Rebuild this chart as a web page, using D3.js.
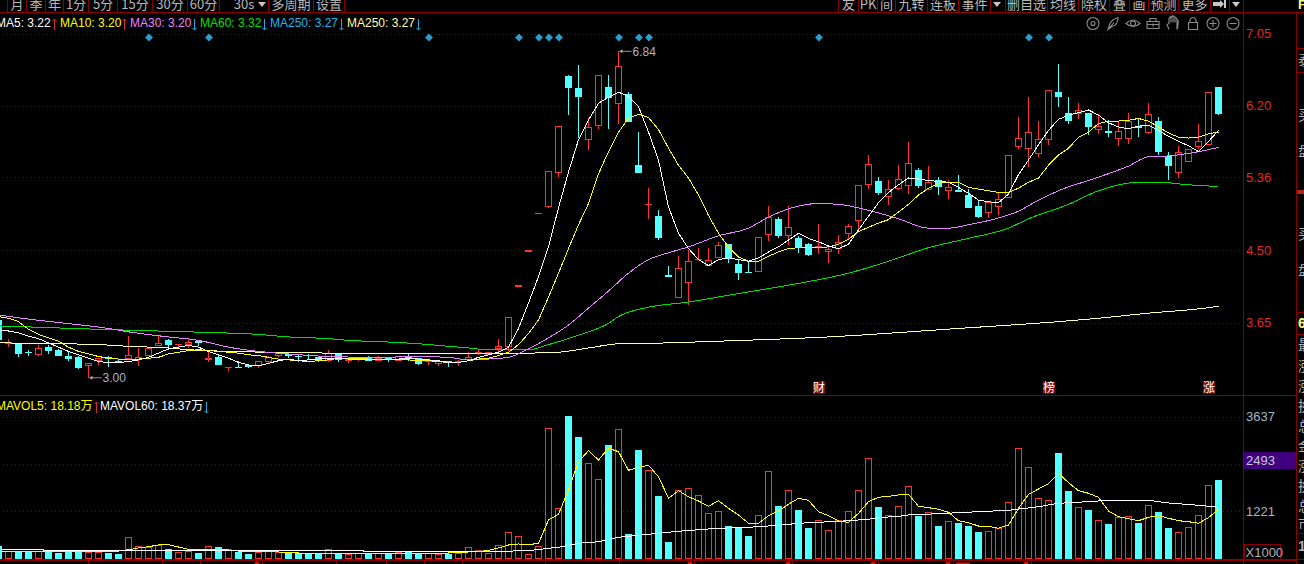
<!DOCTYPE html>
<html>
<head>
<meta charset="utf-8">
<script src="https://d3js.org/d3.v7.min.js"></script>
<style>
    html, body { margin: 0; padding: 0; background: #000; overflow: hidden; }
    svg { display: block; background: #000; }
    text { font-family: "Liberation Sans", Arial, "Noto Sans CJK SC", sans-serif; }
    .cjk { font-family: "Noto Sans CJK SC", sans-serif; }
</style>
</head>
<body>
<svg id="chart" width="1304" height="564"></svg>
<script>
// daily candles
var opens = [3.68,3.40,3.40,3.30,3.27,3.36,3.33,3.26,3.25,3.14,3.20,3.24,3.19,3.23,3.21,3.26,3.38,3.44,3.38,3.39,3.42,3.21,3.25,3.11,3.12,3.15,3.14,3.19,3.26,3.28,3.26,3.26,3.24,3.20,3.28,3.20,3.22,3.24,3.20,3.22,3.20,3.24,3.23,3.18,3.17,3.20,3.18,3.21,3.29,3.27,3.34,3.37,4.08,4.49,4.93,5.02,5.41,6.55,6.41,5.80,5.97,6.42,6.23,6.34,5.50,5.03,4.90,4.20,3.94,4.12,4.38,4.32,4.42,4.57,4.34,4.24,4.25,4.68,4.87,4.67,4.64,4.57,4.53,4.48,4.52,4.70,4.85,5.27,5.31,5.13,5.23,5.26,5.44,5.21,5.33,5.20,5.20,5.15,5.02,4.95,5.02,5.12,5.72,5.70,5.64,5.80,6.36,6.12,6.11,6.12,5.92,5.89,5.82,5.82,5.95,5.89,6.02,5.61,5.41,5.55,5.72,5.75,6.42];
var closes = [3.44,3.41,3.28,3.29,3.35,3.32,3.26,3.22,3.12,3.17,3.23,3.22,3.18,3.26,3.24,3.35,3.40,3.38,3.39,3.41,3.41,3.22,3.15,3.12,3.11,3.13,3.19,3.24,3.29,3.26,3.24,3.25,3.21,3.28,3.21,3.22,3.23,3.20,3.23,3.21,3.25,3.23,3.16,3.19,3.19,3.18,3.19,3.24,3.30,3.30,3.37,3.71,4.08,4.49,4.93,5.43,5.96,6.41,6.30,5.95,6.56,6.29,6.66,6.01,5.41,5.04,4.64,4.19,4.29,4.37,4.39,4.38,4.56,4.40,4.23,4.23,4.65,4.89,4.67,4.77,4.53,4.44,4.54,4.51,4.59,4.78,5.26,5.51,5.17,5.22,5.33,5.52,5.26,5.30,5.24,5.24,5.19,5.00,4.89,5.06,5.10,5.61,5.82,5.89,5.80,6.38,6.30,6.02,6.15,5.95,5.96,5.88,5.90,6.02,5.94,6.10,5.66,5.49,5.65,5.69,5.78,6.36,6.10];
var highs = [3.70,3.46,3.40,3.33,3.39,3.39,3.34,3.32,3.26,3.17,3.23,3.26,3.22,3.49,3.35,3.35,3.49,3.46,3.40,3.44,3.44,3.33,3.28,3.13,3.20,3.16,3.19,3.26,3.29,3.29,3.27,3.28,3.24,3.33,3.28,3.24,3.24,3.26,3.26,3.24,3.25,3.29,3.23,3.21,3.19,3.20,3.21,3.30,3.33,3.30,3.46,3.71,4.08,4.49,4.93,5.43,5.96,6.56,6.68,6.06,6.56,6.56,6.84,6.36,5.89,5.23,4.97,4.31,4.43,4.50,4.53,4.53,4.60,4.57,4.39,4.37,4.65,5.02,4.89,5.02,4.67,4.59,4.81,4.56,4.68,4.81,5.26,5.62,5.36,5.33,5.50,5.77,5.47,5.49,5.36,5.33,5.38,5.22,5.09,5.06,5.17,5.61,6.07,6.30,6.02,6.38,6.69,6.30,6.23,6.12,6.10,6.03,6.02,6.11,6.06,6.23,6.07,5.66,5.73,5.69,5.98,6.36,6.42];
var lows = [3.43,3.36,3.24,3.26,3.26,3.28,3.26,3.20,3.10,3.00,3.15,3.13,3.17,3.22,3.14,3.26,3.37,3.33,3.35,3.35,3.37,3.18,3.15,3.08,3.11,3.11,3.11,3.17,3.24,3.23,3.19,3.22,3.19,3.19,3.19,3.17,3.20,3.20,3.20,3.19,3.20,3.20,3.15,3.15,3.14,3.13,3.14,3.20,3.27,3.27,3.29,3.31,4.08,4.49,4.93,5.00,5.36,6.09,5.82,5.68,5.93,5.93,5.99,6.01,5.41,4.87,4.62,4.19,3.94,3.86,4.38,4.31,4.41,4.35,4.15,4.23,4.25,4.61,4.65,4.56,4.47,4.43,4.46,4.35,4.46,4.62,4.72,5.22,5.15,5.03,5.21,5.16,5.23,5.21,5.15,5.10,5.19,5.00,4.88,4.88,4.91,5.12,5.69,5.48,5.60,5.74,6.18,5.98,6.04,5.86,5.87,5.83,5.73,5.75,5.83,5.87,5.62,5.33,5.35,5.55,5.69,5.75,6.09];

// moving averages, one value per day
var ma5 = [3.56,3.55,3.53,3.49,3.46,3.41,3.36,3.31,3.27,3.23,3.19,3.18,3.18,3.19,3.21,3.24,3.29,3.34,3.36,3.38,3.36,3.31,3.27,3.23,3.18,3.15,3.14,3.17,3.20,3.22,3.20,3.21,3.22,3.23,3.23,3.22,3.22,3.22,3.22,3.22,3.22,3.23,3.22,3.21,3.20,3.18,3.18,3.20,3.24,3.27,3.30,3.36,3.58,3.88,4.19,4.54,5.00,5.42,5.80,6.03,6.23,6.30,6.36,6.31,6.19,5.89,5.56,5.01,4.70,4.52,4.39,4.32,4.39,4.41,4.39,4.37,4.41,4.48,4.54,4.62,4.70,4.64,4.60,4.55,4.52,4.57,4.74,4.90,5.06,5.18,5.27,5.35,5.34,5.32,5.31,5.30,5.24,5.17,5.09,5.07,5.06,5.16,5.39,5.56,5.74,5.91,6.04,6.09,6.12,6.15,6.09,6.00,5.95,5.93,5.96,5.97,5.91,5.84,5.78,5.73,5.66,5.78,5.91];
var ma10 = [3.72,3.70,3.66,3.57,3.51,3.47,3.43,3.36,3.31,3.28,3.25,3.23,3.22,3.22,3.22,3.23,3.24,3.28,3.30,3.32,3.33,3.32,3.31,3.30,3.29,3.27,3.26,3.24,3.22,3.21,3.20,3.19,3.20,3.21,3.23,3.23,3.23,3.22,3.22,3.22,3.22,3.21,3.20,3.20,3.19,3.18,3.18,3.20,3.22,3.23,3.26,3.30,3.39,3.52,3.68,3.95,4.23,4.52,4.80,5.05,5.40,5.66,5.89,6.05,6.10,6.06,5.92,5.70,5.50,5.35,5.15,4.91,4.70,4.54,4.42,4.37,4.37,4.43,4.48,4.52,4.53,4.53,4.53,4.54,4.57,4.63,4.72,4.77,4.82,4.86,4.95,5.04,5.15,5.23,5.29,5.30,5.30,5.24,5.22,5.20,5.18,5.18,5.23,5.30,5.35,5.50,5.62,5.70,5.83,5.89,5.99,6.02,6.02,6.03,6.05,6.02,5.95,5.88,5.83,5.82,5.83,5.87,5.89];

// slower averages, read at the days where the line bends
var ma30Days = [0,3,6,11,13,17,20,23,26,29,33,38,42,45,47,49,51,53,55,57,59,61,63,65,67,69,72,75,77,80,82,84,87,90,93,95,97,100,102,104,106,110,113,115,117,120,122];
var ma30 = [3.74,3.69,3.65,3.58,3.54,3.48,3.44,3.36,3.31,3.28,3.25,3.24,3.25,3.24,3.21,3.22,3.24,3.34,3.47,3.62,3.82,4.02,4.23,4.39,4.47,4.54,4.67,4.76,4.89,5.02,5.05,5.04,4.97,4.87,4.76,4.76,4.80,4.88,4.96,5.09,5.20,5.36,5.49,5.60,5.61,5.66,5.71];
var ma60Days = [0,10,19,22,26,29,33,35,39,42,45,47,49,53,55,58,61,62,65,69,72,76,80,85,89,93,97,101,103,107,110,114,116,119,122];
var ma60 = [3.61,3.57,3.54,3.53,3.51,3.48,3.46,3.44,3.42,3.40,3.37,3.35,3.33,3.33,3.39,3.50,3.64,3.72,3.83,3.89,3.95,4.03,4.11,4.23,4.37,4.53,4.64,4.76,4.87,5.04,5.20,5.30,5.30,5.27,5.25];
var ma250Days = [0,10,13,17,19,23,27,34,46,53,56,59,62,67,72,83,96,106,110,115,120,122];
var ma250 = [3.41,3.39,3.37,3.35,3.33,3.31,3.30,3.29,3.29,3.29,3.30,3.35,3.40,3.41,3.43,3.48,3.58,3.66,3.70,3.76,3.81,3.84];

// volume, in thousands of lots
var volumes = [342,214,222,222,214,196,163,196,222,171,171,171,138,563,334,316,359,257,181,214,163,334,316,240,189,138,181,222,171,171,171,171,145,257,171,130,155,171,145,138,181,196,171,155,120,138,155,308,232,155,359,691,589,120,334,3342,1303,3655,3120,2450,2042,2916,3316,647,2789,2271,1616,444,1761,1812,1634,1175,1226,851,793,596,1124,2246,1361,1761,1259,800,997,742,997,1226,1761,2577,1336,1124,1354,1863,1106,1201,851,971,928,851,698,716,793,1455,2832,2348,1557,1506,2712,1744,1328,1259,997,902,1073,1099,928,1379,1208,800,691,818,1124,1889,2024];
var mavol5 = [214,214,189,214,214,214,214,214,214,201,201,201,214,247,291,324,367,375,316,257,252,252,257,240,214,196,189,189,189,181,163,155,155,163,163,163,155,150,145,145,145,145,150,155,155,163,171,189,201,232,291,367,393,375,410,1004,1150,1769,2490,2771,2534,2832,2745,2271,2348,2399,2108,1557,1751,1598,1489,1354,1496,1303,1132,920,920,1114,1234,1405,1557,1506,1216,1114,979,946,1175,1471,1583,1608,1642,1659,1354,1318,1277,1201,986,935,851,844,793,877,1303,1659,1794,1930,2195,1955,1751,1685,1583,1234,1088,1037,986,1073,1114,1048,986,961,920,1063,1277];
var mavol60Days = [0,4,5,35,38,50,53,55,56,58,60,62,65,68,70,72,75,78,80,82,84,87,88,90,91,94,98,101,104,106,109,111,115,117,120,122];
var mavol60 = [257,257,222,222,206,206,222,283,308,410,451,563,640,716,757,793,818,869,920,946,971,1022,1063,1099,1132,1165,1216,1252,1343,1430,1471,1506,1506,1438,1379,1328];

// axis ticks and annotations
var priceTicks = [7.05, 6.20, 5.36, 4.50, 3.65];
var volTicks = [3637, 2429, 1221];
var volCursor = 2493;
var eventDays = [15, 21, 43, 52, 54, 55, 56, 62, 64, 65, 82, 103, 105];
var noteDays = [82, 105, 121];
var noteLabels = ["财", "榜", "涨"];
var maLegend = [
    {label: "MA5: 3.22", color: "#ffffff", arrow: "up", x: -4},
    {label: "MA10: 3.20", color: "#ffff00", arrow: "up", x: 60},
    {label: "MA30: 3.20", color: "#e884ff", arrow: "down", x: 130},
    {label: "MA60: 3.32", color: "#00e000", arrow: "down", x: 200},
    {label: "MA250: 3.27", color: "#1eb4f0", arrow: "down", x: 270},
    {label: "MA250: 3.27", color: "#ffffa8", arrow: "down", x: 347}
];
var volLegend = [
    {label: "MAVOL5: 18.18万", color: "#ffff00", arrow: "up", x: -4},
    {label: "MAVOL60: 18.37万", color: "#ffffff", arrow: "down", x: 100}
];
// toolbar tabs: label and the x of their left and right separators
var leftTabs = [["月",7,26],["季",26,45],["年",45,63],["1分",63,88],["5分",88,117],["15分",117,152],["30分",152,187],["60分",187,219],["30s",219,268],["多周期",268,313],["设置",313,344]];
var rightTabs = [["友",838,858],["PK",858,877],["间",877,895],["九转",895,927],["连板",927,958],["事件",958,990],["",990,1005],["删自选",1005,1047],["均线",1047,1078],["除权",1078,1109],["叠",1109,1129],["画",1129,1148],["预测",1148,1178],["更多",1178,1210],["",1210,1229],["",1229,1243]];
var sideLabels = [["泰",60],["买",115],["盘",151],["买",234],["盘",270],["最",345],["涨",366],["涨",386],["换",406],["总",426],["金",446],["涨",466],["换",486],["总",506],["市",524]];
var bottomTicks = [88,162,200,262,336,386,424,462,545,619,694,792,878,953,1031];
var bottomDots = [257,690,788,873,948,1026];

var RED = "#ff3232", CYAN = "#54ffff", FRAME = "#8a0000", GRID = "#8a0000";
var rightEdge = 1243.5, sideEdge = 1296.5;

var svg = d3.select("#chart");
var x = d3.scaleLinear().domain([0, 122]).range([-1.5, 1218.5]);
var y = d3.scaleLinear().domain([3.65, 7.05]).range([322.5, 33.5]);
var yVol = d3.scaleLinear().domain([0, 3637]).range([559.4, 416.7]);
var volBase = 558.5;

// ---- frame ----
var frame = svg.append("g").attr("stroke", FRAME).attr("shape-rendering", "crispEdges");
[[0,12.5,1304,12.5],[0,395.5,sideEdge,395.5],[0,559.5,sideEdge,559.5],[0,560.5,sideEdge,560.5],
 [rightEdge,12,rightEdge,564],[sideEdge,12,sideEdge,564],[sideEdge,48.5,1304,48.5],[sideEdge,72.5,1304,72.5],
 [sideEdge,312.5,1304,312.5],[sideEdge,334.5,1304,334.5],[sideEdge,533.5,1304,533.5],[sideEdge,559.5,1304,559.5]
].forEach(function(l) {
    frame.append("line").attr("x1", l[0]).attr("y1", l[1]).attr("x2", l[2]).attr("y2", l[3]);
});
svg.append("rect").attr("x", 1297).attr("y", 190).attr("width", 7).attr("height", 4).attr("fill", "#b02018");

// ---- toolbars ----
function drawTabs(tabs) {
    var g = svg.append("g");
    tabs.forEach(function(t) {
        g.append("line").attr("x1", t[1] + 0.5).attr("x2", t[1] + 0.5).attr("y1", 0).attr("y2", 12)
            .attr("stroke", FRAME).attr("shape-rendering", "crispEdges");
        g.append("line").attr("x1", t[2] + 0.5).attr("x2", t[2] + 0.5).attr("y1", 0).attr("y2", 12)
            .attr("stroke", FRAME).attr("shape-rendering", "crispEdges");
        g.append("text").attr("class", "cjk").attr("x", (t[1] + t[2]) / 2 + 0.5).attr("y", 9)
            .attr("text-anchor", "middle").attr("font-size", 13).attr("fill", "#b8b8b8").text(t[0]);
    });
}
drawTabs(leftTabs);
drawTabs(rightTabs);
svg.append("path").attr("d", "M258,2 h8 l-4,5 z").attr("fill", "#c8c8c8");
svg.append("path").attr("d", "M993,2 h8 l-4,5 z").attr("fill", "#c8c8c8");
svg.append("path").attr("d", "M1232,2 h8 l-4,5 z").attr("fill", "#c8c8c8");
svg.append("path").attr("d", "M1213,2 h7 v-2 l4,4 l-4,4 v-2 h-7 z M1224,0 h2 v8 h-2 z").attr("fill", "#c8c8c8");

// ---- grid and axes ----
var priceAxis = d3.axisRight(y).tickValues(priceTicks).tickSize(-rightEdge).tickPadding(2.5)
    .tickFormat(d3.format(".2f"));
var gPrice = svg.append("g").attr("transform", "translate(" + rightEdge + ",0)").call(priceAxis);
var volAxis = d3.axisRight(yVol).tickValues(volTicks).tickSize(-rightEdge).tickPadding(2.5)
    .tickFormat(function(d) { return d === 2429 ? "" : d; });
var gVol = svg.append("g").attr("transform", "translate(" + rightEdge + ",0)").call(volAxis);
[gPrice, gVol].forEach(function(g) {
    g.select(".domain").remove();
    g.selectAll("line").attr("stroke", GRID).attr("stroke-dasharray", "1 3").attr("shape-rendering", "crispEdges");
    g.selectAll("text").attr("font-family", "Liberation Sans").attr("font-size", 13);
});
gPrice.selectAll("text").attr("fill", "#e02828");
gVol.selectAll("text").attr("fill", "#a8b4c8");

svg.append("rect").attr("x", 1244).attr("y", yVol(volCursor) - 9.5).attr("width", 52).attr("height", 17)
    .attr("fill", "#40007f");
svg.append("text").attr("x", 1246).attr("y", yVol(volCursor) - 1).attr("dy", "0.32em")
    .attr("font-size", 13).attr("fill", "#c8c8d8").text(volCursor);
svg.append("rect").attr("x", 1244.5).attr("y", 544.5).attr("width", 36).attr("height", 15)
    .attr("fill", "none").attr("stroke", FRAME).attr("shape-rendering", "crispEdges");
svg.append("text").attr("x", 1245.5).attr("y", 556.5).attr("font-size", 13).attr("fill", "#b0b0b0").text("X1000");

// ---- candles ----
var days = d3.range(opens.length);
var candles = svg.append("g").attr("shape-rendering", "crispEdges");
days.forEach(function(i) {
    var up = closes[i] >= opens[i];
    var c = up ? RED : CYAN;
    var cx = x(i);
    candles.append("line").attr("x1", cx).attr("x2", cx).attr("y1", y(highs[i])).attr("y2", y(lows[i])).attr("stroke", c);
    var top = y(Math.max(opens[i], closes[i])), bot = y(Math.min(opens[i], closes[i]));
    if (bot - top < 1.5) {
        candles.append("line").attr("x1", cx - 3.5).attr("x2", cx + 3.5).attr("y1", top).attr("y2", top)
            .attr("stroke", c).attr("stroke-width", 1.5);
    } else if (up) {
        candles.append("rect").attr("x", cx - 3).attr("y", top).attr("width", 6).attr("height", bot - top)
            .attr("fill", "#000").attr("stroke", c);
    } else {
        candles.append("rect").attr("x", cx - 3.5).attr("y", top).attr("width", 7).attr("height", bot - top)
            .attr("fill", c);
    }
});

// ---- volume bars ----
var bars = svg.append("g").attr("shape-rendering", "crispEdges");
days.forEach(function(i) {
    var cx = x(i), up = closes[i] >= opens[i];
    if (up) {
        bars.append("rect").attr("x", cx - 3).attr("y", yVol(volumes[i])).attr("width", 6)
            .attr("height", volBase - yVol(volumes[i])).attr("fill", "#000").attr("stroke", RED);
    } else {
        bars.append("rect").attr("x", cx - 3.5).attr("y", yVol(volumes[i])).attr("width", 7)
            .attr("height", volBase + 0.5 - yVol(volumes[i])).attr("fill", CYAN);
    }
});

// ---- average lines ----
function drawLine(xs, vals, scale, color, curve) {
    var line = d3.line().curve(curve).x(function(d) { return x(d[0]); }).y(function(d) { return scale(d[1]); });
    svg.append("path").datum(xs.map(function(d, k) { return [d, vals[k]]; }))
        .attr("d", line).attr("fill", "none").attr("stroke", color).attr("stroke-width", 1)
        .attr("shape-rendering", "crispEdges");
}
drawLine(ma250Days, ma250, y, "#ffffa8", d3.curveMonotoneX);
drawLine(ma60Days, ma60, y, "#00e000", d3.curveMonotoneX);
drawLine(ma30Days, ma30, y, "#e884ff", d3.curveMonotoneX);
drawLine(days, ma10, y, "#ffff00", d3.curveLinear);
drawLine(days, ma5, y, "#ffffff", d3.curveLinear);
drawLine(days, mavol5, yVol, "#ffff00", d3.curveLinear);
drawLine(mavol60Days, mavol60, yVol, "#ffffff", d3.curveLinear);

// ---- event diamonds ----
svg.append("g").selectAll("path").data(eventDays).enter().append("path")
    .attr("d", d3.symbol().type(d3.symbolSquare).size(32))
    .attr("transform", function(d) { return "translate(" + (x(d) + 0.5) + ",37.5) rotate(45)"; })
    .attr("fill", "#2b9ccb");

// ---- high / low notes ----
function drawPriceNote(day, val) {
    var px = x(day), py = y(val);
    svg.append("line").attr("x1", px + 1).attr("x2", px + 13).attr("y1", py).attr("y2", py).attr("stroke", "#909090");
    svg.append("path").attr("d", "M" + (px + 1) + "," + py + " l3,-2 v4 z").attr("fill", "#b0b0b0");
    svg.append("text").attr("x", px + 14).attr("y", py).attr("dy", "0.36em").attr("font-size", 12)
        .attr("fill", "#a8b4c8").text(val.toFixed(2));
}
drawPriceNote(62, highs[62]);
drawPriceNote(9, lows[9]);

// ---- markers above the volume pane ----
noteDays.forEach(function(d, k) {
    var cx = x(d) + 0.5;
    svg.append("rect").attr("x", cx - 6).attr("y", 381.5).attr("width", 12).attr("height", 12.5).attr("fill", "#800808");
    svg.append("text").attr("class", "cjk").attr("x", cx).attr("y", 392).attr("text-anchor", "middle")
        .attr("font-size", 12).attr("fill", "#ffffff").text(noteLabels[k]);
});

// ---- legends ----
function drawLegend(items, ly) {
    items.forEach(function(it) {
        var t = svg.append("text").attr("x", it.x).attr("y", ly).attr("font-size", 12).attr("fill", it.color).text(it.label);
        var ax = Math.round(t.node().getComputedTextLength() + it.x + 3) + 0.5;
        var up = it.arrow === "up";
        var d = up ? "M" + ax + "," + (ly + 3) + " V" + (ly - 8) + " M" + (ax - 2) + "," + (ly - 6) + " L" + ax + "," + (ly - 8) + " L" + (ax + 2) + "," + (ly - 6)
                   : "M" + ax + "," + (ly - 8) + " V" + (ly + 3) + " M" + (ax - 2) + "," + (ly + 1) + " L" + ax + "," + (ly + 3) + " L" + (ax + 2) + "," + (ly + 1);
        svg.append("path").attr("d", d).attr("fill", "none").attr("stroke", up ? "#d83030" : "#28a8e0");
    });
}
drawLegend(maLegend, 27);
drawLegend(volLegend, 410);

// ---- toolbox icons ----
var icons = svg.append("g").attr("fill", "none").attr("stroke", "#8c8c8c").attr("stroke-width", 1.1);
function ix(cx) { return icons.append("g").attr("transform", "translate(" + cx + ",23.5)"); }
ix(1093).call(function(g) {
    g.append("circle").attr("r", 6);
    g.append("circle").attr("r", 2);
});
ix(1113).append("path").attr("d", "M-5,6 L-3,0 C-1,-4 2,-5 5,-6 C5,-2 3,2 -1,3 Z M-5,6 L1,-1");
ix(1133).call(function(g) {
    g.append("path").attr("d", "M-7,0 Q0,-7 7,0 Q0,6 -7,0 Z");
    g.append("circle").attr("r", 2.5);
});
ix(1153).append("path").attr("d", "M-6,-2 H6 V5 H-6 Z M-6,1 H6 M-3,-2 V-5 H3 V-2 M0,0 V3");
ix(1173).append("path").attr("d", "M-4,6 L-6,1 L-4,0 V-5 M-2,-1 V-6 M0,-1 V-7 M2,-1 V-6 M4,0 V-4 C6,-4 5,3 4,6 Z M-4,-5 C-3,-7 -2,-7 -2,-6 M-2,-6 C-1,-8 0,-8 0,-7 M0,-7 C1,-8 2,-7 2,-6 M2,-6 C3,-6 4,-5 4,-4");
ix(1193).append("path").attr("d", "M-4.5,-1 H4.5 V6 H-4.5 Z M-3,-1 V-4 Q0,-8 3,-4 V-1");
ix(1213).call(function(g) {
    g.append("circle").attr("r", 6);
    g.append("path").attr("d", "M-3.5,0 H3.5 M0,-3.5 V3.5");
});
ix(1233).call(function(g) {
    g.append("circle").attr("r", 6);
    g.append("path").attr("d", "M-3.5,0 H3.5");
});

// ---- right hand column, cut off by the window ----
sideLabels.forEach(function(s) {
    svg.append("text").attr("class", "cjk").attr("x", 1298).attr("y", s[1]).attr("dy", "0.38em")
        .attr("font-size", 14).attr("fill", "#b0b0b0").text(s[0]);
});
svg.append("text").attr("x", 1298).attr("y", 9).attr("font-size", 13).attr("font-weight", "bold").attr("fill", "#ffff80").text("F");
svg.append("text").attr("x", 1298).attr("y", 328).attr("font-size", 14).attr("font-weight", "bold").attr("fill", "#ffff80").text("6");
svg.append("text").attr("x", 1298).attr("y", 551).attr("font-size", 14).attr("font-weight", "bold").attr("fill", "#b0b0b0").text("1");

// ---- date axis, only its top shows ----
bottomTicks.forEach(function(t) {
    svg.append("line").attr("x1", t + 0.5).attr("x2", t + 0.5).attr("y1", 560).attr("y2", 564)
        .attr("stroke", FRAME).attr("shape-rendering", "crispEdges");
});
bottomDots.forEach(function(t) {
    svg.append("circle").attr("cx", t).attr("cy", 564).attr("r", 2.5).attr("fill", "#e01010");
});
svg.append("rect").attr("x", 956).attr("y", 562.5).attr("width", 14).attr("height", 2).attr("fill", "#e01010");
</script>
</body>
</html>
